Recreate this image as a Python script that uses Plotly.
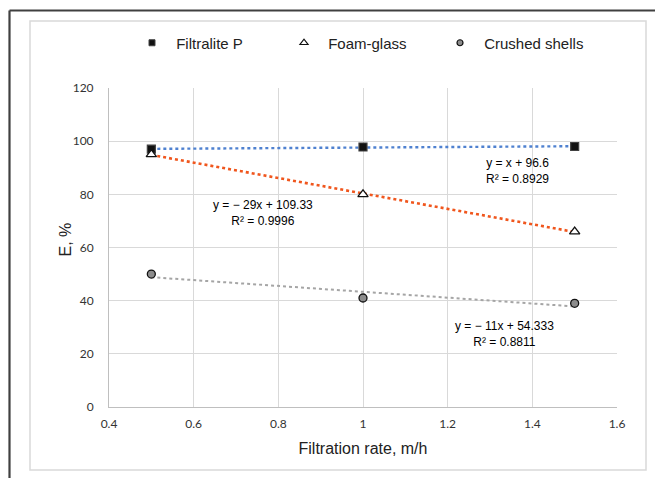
import numpy as np
import plotly.graph_objects as go

# Data
filtration_rate = [0.5, 1.0, 1.5]
filtralite_p = [97, 97.8, 98]
foam_glass = [95, 80, 66]
crushed_shells = [50, 41, 39]

series_names = ["Filtralite P", "Foam-glass", "Crushed shells"]
equations = ["y = x + 96.6<br>R² = 0.8929",
             "y = − 29x + 109.33<br>R² = 0.9996",
             "y = − 11x + 54.333<br>R² = 0.8811"]
eq_pos = [(1.364, 88.6), (0.764, 73.0), (1.335, 27.6)]

x_ticks = [0.4, 0.6, 0.8, 1, 1.2, 1.4, 1.6]
y_ticks = [0, 20, 40, 60, 80, 100, 120]

# Plot-area pixel geometry
L, R, T, B = 109, 617, 88, 407
W, H = 655, 478

def px(x):
    return (x - L) / (R - L)

def py(y):
    return (B - y) / (B - T)

fig = go.Figure()

trend_styles = [
    dict(color="#4F81D0", width=2.4),
    dict(color="#F0561D", width=2.6),
    dict(color="#A5A5A5", width=2.0),
]
series = [filtralite_p, foam_glass, crushed_shells]
xs = np.array(filtration_rate)
for vals, st in zip(series, trend_styles):
    k, b = np.polyfit(xs, np.array(vals, dtype=float), 1)
    fig.add_trace(go.Scatter(
        x=[xs.min(), xs.max()], y=[k * xs.min() + b, k * xs.max() + b],
        mode="lines", line=dict(color=st["color"], width=st["width"], dash="dot"),
        showlegend=False, hoverinfo="skip"))

markers = [
    dict(symbol="square", color="#111111", size=8, line=dict(color="#404040", width=1.2)),
    dict(symbol="triangle-up", color="#FFFFFF", size=9, line=dict(color="#111111", width=1.3)),
    dict(symbol="circle", color="#8C8C8C", size=8, line=dict(color="#111111", width=1.3)),
]
legend_markers = [
    dict(symbol="square", color="#111111", size=6, line=dict(color="#404040", width=1)),
    dict(symbol="triangle-up", color="#FFFFFF", size=7, line=dict(color="#111111", width=1.2)),
    dict(symbol="circle", color="#8C8C8C", size=6, line=dict(color="#111111", width=1.2)),
]
legend_ids = ["legend", "legend2", "legend3"]
legend_px = [132, 284, 440]
for name, vals, mk, lmk, lid in zip(series_names, series, markers, legend_markers, legend_ids):
    fig.add_trace(go.Scatter(x=filtration_rate, y=vals, mode="markers", name=name,
                             marker=mk, showlegend=False))
    fig.add_trace(go.Scatter(x=[None], y=[None], mode="markers", name="\u00a0" + name,
                             marker=lmk, legend=lid, hoverinfo="skip"))

for txt, (ax, ay) in zip(equations, eq_pos):
    fig.add_annotation(x=ax, y=ay, xref="x", yref="y", text=txt, showarrow=False,
                       font=dict(family="Liberation Sans, Arial", size=12, color="#000000"),
                       align="center")

# Y axis title
fig.add_annotation(x=px(54), y=py(240), xref="paper", yref="paper", text="E, %",
                   textangle=-90, showarrow=False,
                   font=dict(family="Liberation Sans, Arial", size=16, color="#222222"))

# Frames
fig.add_shape(type="rect", xref="paper", yref="paper",
              x0=px(30), x1=px(646), y0=py(470), y1=py(21),
              line=dict(color="#D9D9D9", width=1.5), layer="below")
fig.add_shape(type="line", xref="paper", yref="paper",
              x0=px(9.5), x1=px(9.5), y0=py(480), y1=py(10.5),
              line=dict(color="#404040", width=2.2))
fig.add_shape(type="line", xref="paper", yref="paper",
              x0=px(9.5), x1=px(660), y0=py(10.5), y1=py(10.5),
              line=dict(color="#404040", width=2.2))

legend_font = dict(family="Liberation Sans, Arial", size=15, color="#222222")
legends = {}
for lid, lx in zip(legend_ids, legend_px):
    legends[lid] = dict(orientation="h", x=px(lx), y=py(43), xanchor="left", yanchor="middle",
                        font=legend_font, bgcolor="rgba(0,0,0,0)")

tick_font = dict(family="Lato, Liberation Sans, Arial", size=12, color="#333333")
fig.update_layout(
    width=W, height=H,
    margin=dict(l=L, r=W - R, t=T, b=H - B),
    paper_bgcolor="white", plot_bgcolor="white",
    showlegend=True,
    **legends,
    xaxis=dict(range=[0.4, 1.6], tickvals=x_ticks, ticktext=[str(v) for v in x_ticks],
               showgrid=True, gridcolor="#D9D9D9", gridwidth=1,
               showline=True, linecolor="#BFBFBF", linewidth=1, zeroline=False,
               ticks="", tickfont=tick_font, ticklabelstandoff=6,
               title=dict(text="Filtration rate, m/h", standoff=12,
                          font=dict(family="Liberation Sans, Arial", size=16, color="#222222"))),
    yaxis=dict(range=[0, 120], tickvals=y_ticks,
               showgrid=True, gridcolor="#D9D9D9", gridwidth=1,
               showline=True, linecolor="#BFBFBF", linewidth=1, zeroline=False,
               ticks="", tickfont=tick_font, ticklabelstandoff=12),
)

fig.write_html("out.html")
